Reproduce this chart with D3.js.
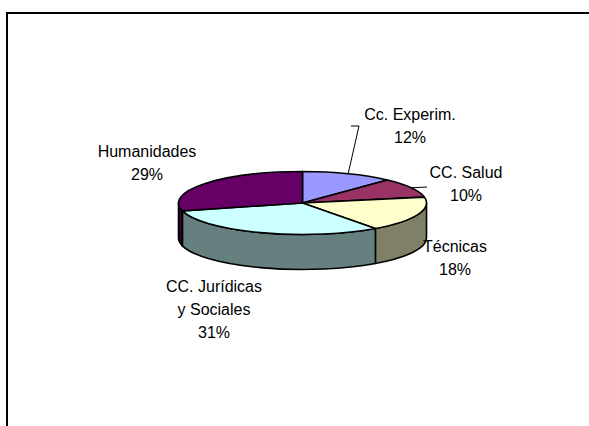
<!DOCTYPE html>
<html>
<head>
<meta charset="utf-8">
<script src="https://cdn.jsdelivr.net/npm/d3@7"></script>
<style>
body { margin: 0; background: #fff; }
text { font-family: "Liberation Sans", Arial, sans-serif; font-size: 16px; fill: #000; }
</style>
</head>
<body>
<div class="chart"></div>
<script>
// data
var categories = ["Cc. Experim.", "CC. Salud", "Técnicas", "CC. Jurídicas y Sociales", "Humanidades"];
var nameLines = [["Cc. Experim."], ["CC. Salud"], ["Técnicas"], ["CC. Jurídicas", "y Sociales"], ["Humanidades"]];
var values = [12, 10, 18, 31, 29];
var colors = ["#9999ff", "#993366", "#ffffcc", "#ccffff", "#660066"];

// layout
var svgWidth = 589;
var svgHeight = 426;
var cx = 302.5, cy = 203, rx = 124, ry = 31.5, depth = 35;
var labelPos = [[410, 120], [466, 178], [455, 252], [214, 292], [147, 157]];
var leaders = [[[359, 126], [351, 126]], [[427, 187]], null, null, null];
var lineGap = 23;

var svg = d3.select(".chart")
  .append("svg")
  .attr("width", svgWidth)
  .attr("height", svgHeight);

svg.append("rect")
  .attr("x", 7)
  .attr("y", 13)
  .attr("width", 700)
  .attr("height", 600)
  .attr("fill", "none")
  .attr("stroke", "#000")
  .attr("stroke-width", 2);

var total = d3.sum(values);
var pie = d3.pie().sort(null).value(d => d.value);
var slices = pie(categories.map((c, i) => ({ name: c, value: values[i], i: i })));

function pt(a, dy) {
  return [cx + rx * Math.sin(a), cy - ry * Math.cos(a) + (dy || 0)];
}

function topPath(d) {
  var p0 = pt(d.startAngle), p1 = pt(d.endAngle);
  var large = d.endAngle - d.startAngle > Math.PI ? 1 : 0;
  return `M${cx},${cy}L${p0}A${rx},${ry} 0 ${large} 1 ${p1}Z`;
}

function wallPath(d) {
  var b0 = Math.max(d.startAngle, Math.PI / 2);
  var b1 = Math.min(d.endAngle, 3 * Math.PI / 2);
  if (b1 <= b0) return null;
  var p0 = pt(b0), p1 = pt(b1), q0 = pt(b0, depth), q1 = pt(b1, depth);
  return `M${p0}A${rx},${ry} 0 0 1 ${p1}L${q1}A${rx},${ry} 0 0 0 ${q0}Z`;
}

function darker(c) {
  var r = d3.rgb(c);
  return d3.rgb(r.r * 0.5, r.g * 0.5, r.b * 0.5).toString();
}

var walls = slices.filter(d => wallPath(d) !== null);

svg.append("g").selectAll("path")
  .data(walls)
  .enter()
  .append("path")
  .attr("d", wallPath)
  .attr("fill", d => darker(colors[d.data.i]))
  .attr("stroke", "#000")
  .attr("stroke-width", 1.6)
  .attr("stroke-linejoin", "round");

svg.append("g").selectAll("path")
  .data(slices)
  .enter()
  .append("path")
  .attr("d", topPath)
  .attr("fill", d => colors[d.data.i])
  .attr("stroke", "#000")
  .attr("stroke-width", 1.6)
  .attr("stroke-linejoin", "round");

// leader lines
slices.forEach(function(d) {
  var pts = leaders[d.data.i];
  if (!pts) return;
  var mid = pt((d.startAngle + d.endAngle) / 2);
  svg.append("path")
    .attr("d", d3.line()([mid].concat(pts)))
    .attr("fill", "none")
    .attr("stroke", "#000")
    .attr("stroke-width", 1);
});

// labels
var fmt = d3.format(".0%");
slices.forEach(function(d) {
  var i = d.data.i;
  var lines = nameLines[i].concat([fmt(d.data.value / total)]);
  var t = svg.append("text")
    .attr("text-anchor", "middle")
    .attr("x", labelPos[i][0])
    .attr("y", labelPos[i][1]);
  lines.forEach(function(s, k) {
    t.append("tspan")
      .attr("x", labelPos[i][0])
      .attr("y", labelPos[i][1] + k * lineGap)
      .text(s);
  });
});
</script>
</body>
</html>
